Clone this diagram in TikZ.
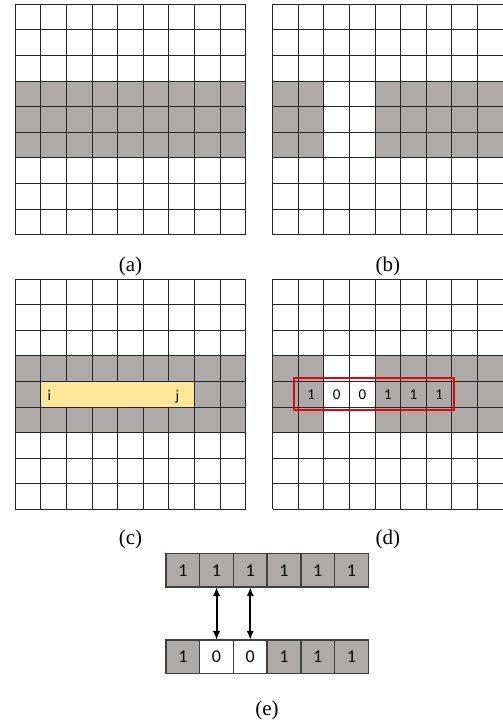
\documentclass[tikz,border=0pt]{standalone}
\usepackage{fontspec}
\setmainfont{Liberation Serif}
\newfontfamily\cellfont{Carlito}
\usetikzlibrary{arrows.meta}
\definecolor{CellGray}{RGB}{174,170,170}
\definecolor{CellYellow}{RGB}{255,230,153}
\definecolor{MarkRed}{RGB}{240,0,0}
\definecolor{BoxLine}{RGB}{64,64,64}
\tikzset{
  gridline/.style={draw=black!85,line width=0.9pt},
  shade/.style={fill=CellGray},
  caption/.style={inner sep=0pt,font=\fontsize{21}{24}\selectfont},
  tag/.style={inner sep=0pt,font=\cellfont\fontsize{15}{18}\selectfont},
  digit/.style={inner sep=0pt,font=\cellfont\fontsize{15}{18}\selectfont},
  redbox/.style={draw=MarkRed,line width=2.6pt},
}
\tikzset{cellbox/.style={draw=BoxLine,line width=1.4pt,minimum width=33.7pt,minimum height=33.7pt,inner sep=0pt,outer sep=0pt,font=\cellfont\fontsize{18}{21}\selectfont},
  link/.style={{Latex[length=9pt,width=7.5pt]}-{Latex[length=9pt,width=7.5pt]},line width=2pt}}

\begin{document}
\begin{tikzpicture}[x=1pt,y=-1pt]
\useasboundingbox (0,0) rectangle (503,726);
% grid (a)
\begin{scope}[shift={(15.3,4.3)}]
\fill[shade] (0,76.8) rectangle (230.4,153.6);
\foreach \k in {0,...,9}{
  \draw[gridline] (25.6*\k,0) -- (25.6*\k,230.4);
  \draw[gridline] (0,25.6*\k) -- (230.4,25.6*\k);
}
\end{scope}
\node[caption] (capA) at (130.5,266) {(a)};
% grid (b)
\begin{scope}[shift={(272.7,4.3)}]
\fill[shade] (0,76.8) rectangle (51.2,153.6);
\fill[shade] (102.4,76.8) rectangle (230.4,153.6);
\foreach \k in {0,...,9}{
  \draw[gridline] (25.6*\k,0) -- (25.6*\k,230.4);
  \draw[gridline] (0,25.6*\k) -- (230.4,25.6*\k);
}
\end{scope}
\node[caption] (capB) at (387.9,266) {(b)};
% grid (c)
\begin{scope}[shift={(15.3,279)}]
\fill[shade] (0,76.8) rectangle (230.4,153.6);
\foreach \k in {0,...,9}{
  \draw[gridline] (25.6*\k,0) -- (25.6*\k,230.4);
  \draw[gridline] (0,25.6*\k) -- (230.4,25.6*\k);
}
\fill[CellYellow] (26,102.8) rectangle (178.8,127.6);
\node[tag,anchor=base west] (posI) at (32,121) {i};
\node[tag,anchor=base west] (posJ) at (160,121) {j};
\end{scope}
\node[caption] (capC) at (130.5,539) {(c)};
% grid (d)
\begin{scope}[shift={(272.7,279)}]
\fill[shade] (0,76.8) rectangle (51.2,153.6);
\fill[shade] (102.4,76.8) rectangle (230.4,153.6);
\foreach \k in {0,...,9}{
  \draw[gridline] (25.6*\k,0) -- (25.6*\k,230.4);
  \draw[gridline] (0,25.6*\k) -- (230.4,25.6*\k);
}
\node[digit] (d1) at (38.4,115.2) {1};
\node[digit] (d2) at (64,115.2) {0};
\node[digit] (d3) at (89.6,115.2) {0};
\node[digit] (d4) at (115.2,115.2) {1};
\node[digit] (d5) at (140.8,115.2) {1};
\node[digit] (d6) at (166.4,115.2) {1};
\draw[redbox] (21.3,99) rectangle (181.3,131);
\end{scope}
\node[caption] (capD) at (387.9,539) {(d)};
% (e) rows
\node[cellbox,fill=CellGray] (t1) at (182.85,570.3) {1};
\node[cellbox,fill=CellGray] (t2) at (216.55,570.3) {1};
\node[cellbox,fill=CellGray] (t3) at (250.25,570.3) {1};
\node[cellbox,fill=CellGray] (t4) at (283.95,570.3) {1};
\node[cellbox,fill=CellGray] (t5) at (317.65,570.3) {1};
\node[cellbox,fill=CellGray] (t6) at (351.35,570.3) {1};
\node[cellbox,fill=CellGray] (b1) at (182.85,656.7) {1};
\node[cellbox,fill=white] (b2) at (216.55,656.7) {0};
\node[cellbox,fill=white] (b3) at (250.25,656.7) {0};
\node[cellbox,fill=CellGray] (b4) at (283.95,656.7) {1};
\node[cellbox,fill=CellGray] (b5) at (317.65,656.7) {1};
\node[cellbox,fill=CellGray] (b6) at (351.35,656.7) {1};
\draw[link] (t2.south) -- (b2.north);
\draw[link] (t3.south) -- (b3.north);
\node[caption] (capE) at (267,710) {(e)};
\end{tikzpicture}
\end{document}
